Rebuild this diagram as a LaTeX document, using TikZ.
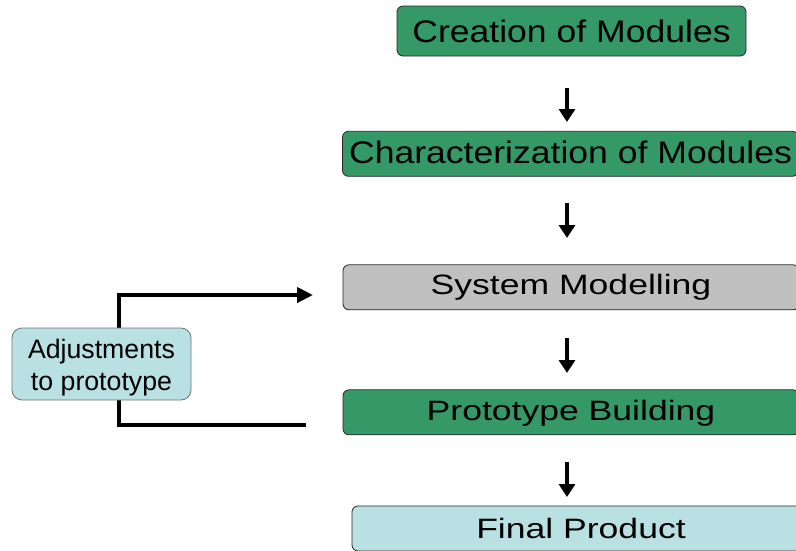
\documentclass[tikz,border=0pt]{standalone}
\usepackage{fontspec}
\setmainfont{Liberation Sans}
\newfontfamily\stretchA{Liberation Sans}[FakeStretch=1.14]
\newfontfamily\stretchB{Liberation Sans}[FakeStretch=1.27]
\usetikzlibrary{arrows.meta}
\definecolor{boxgreen}{RGB}{52,153,102}
\definecolor{boxgray}{RGB}{192,192,192}
\definecolor{boxblue}{RGB}{185,224,226}
\tikzset{
  stage/.style={draw=black!85, line width=0.8pt, rounded corners=6pt, minimum height=45pt,
    inner sep=0pt, text depth=0pt, text=black},
  bigA/.style={font=\stretchA\fontsize{31.2}{36}\selectfont},
  bigB/.style={font=\stretchB\fontsize{28}{33}\selectfont},
  adjtext/.style={font=\fontsize{26.7}{31.7}\selectfont, anchor=base, inner sep=0pt},
  downarr/.style={line width=4pt, -{Triangle[width=16pt,length=13pt]}},
  loop/.style={line width=4.5pt, -{Triangle[width=15pt,length=16pt]}},
}
\begin{document}
\begin{tikzpicture}[x=1pt,y=-1pt]
\useasboundingbox (0,0) rectangle (796,550);
\clip (0,0) rectangle (796,550);
% feedback loop (behind the adjustments box)
\coordinate (fbstart) at (306,425);
\coordinate (fbend) at (313,295);
\draw[loop] (fbstart) -- (119,425) -- (119,295) -- (fbend);
\node[draw=black!55, line width=0.8pt, fill=boxblue, rounded corners=10pt, minimum width=179pt,
  minimum height=72pt, inner sep=0pt] (adj) at (101.5,364) {};
\node[adjtext] (adj1) at (101.5,358.3) {Adjustments};
\node[adjtext] (adj2) at (101.5,390) {to prototype};
% stages
\node[stage, bigA, fill=boxgreen, minimum width=349pt, minimum height=50pt, text height=23pt]
  (s1) at (571.5,31) {Creation of Modules};
\node[stage, bigA, fill=boxgreen, minimum width=456pt, text height=19.8pt]
  (s2) at (570.5,153.8) {Characterization of Modules};
\node[stage, bigB, fill=boxgray, minimum width=456pt, text height=14pt]
  (s3) at (571,287.3) {System Modelling};
\node[stage, bigB, fill=boxgreen, minimum width=456pt, text height=15.6pt]
  (s4) at (571,412.3) {Prototype Building};
\node[stage, bigB, fill=boxblue, minimum width=458pt, text height=19.6pt]
  (s5) at (581,528.5) {Final Product};
% arrows
\coordinate (a1s) at (567,88);  \coordinate (a1e) at (567,122);
\coordinate (a2s) at (567,203); \coordinate (a2e) at (567,238);
\coordinate (a3s) at (567,338); \coordinate (a3e) at (567,373);
\coordinate (a4s) at (567,462); \coordinate (a4e) at (567,497);
\draw[downarr] (a1s) -- (a1e);
\draw[downarr] (a2s) -- (a2e);
\draw[downarr] (a3s) -- (a3e);
\draw[downarr] (a4s) -- (a4e);
\end{tikzpicture}
\end{document}
